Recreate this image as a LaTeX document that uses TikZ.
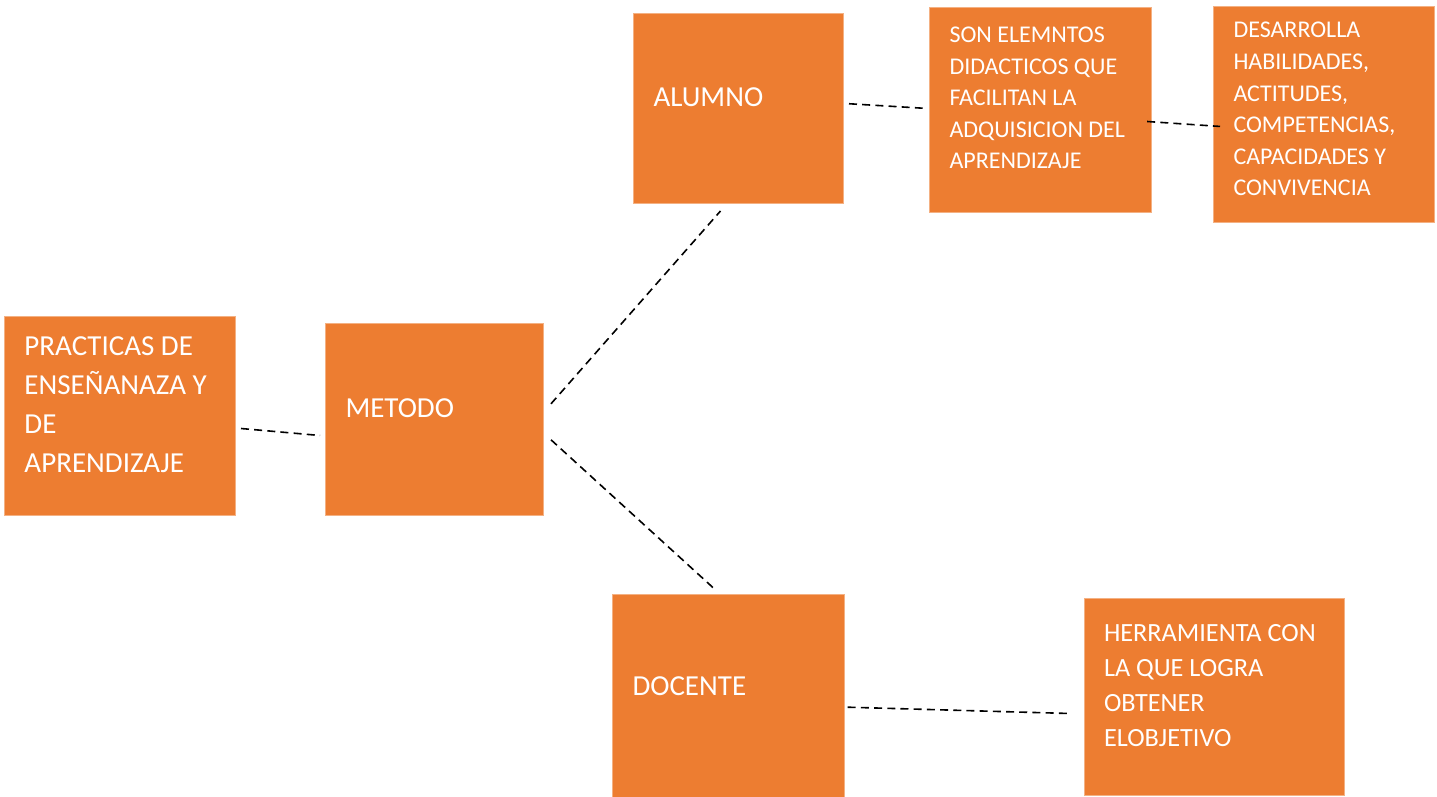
\documentclass[tikz,border=0pt]{standalone}
\usepackage{fontspec}
\setmainfont{Carlito}
\definecolor{cardorange}{HTML}{ED7D31}
\definecolor{cardedge}{HTML}{F4B183}
\tikzset{
  card/.style={fill=cardorange, draw=cardedge, line width=0.5pt, text=white,
    anchor=north west, align=flush left, inner xsep=10pt, inner ysep=0pt,
    execute at end node={\par\vspace*{#1}}},
  card/.default=11pt,
  bigtext/.style={font=\fontsize{14.5}{19.45}\selectfont},
  midtext/.style={font=\fontsize{13.13}{17.5}\selectfont},
  smalltext/.style={font=\fontsize{12}{15.8}\selectfont},
  link/.style={line width=0.8pt, dash pattern=on 4pt off 2.6pt}
}
\begin{document}
\begin{tikzpicture}[x=0.5pt,y=-0.5pt]
  \useasboundingbox (0,0) rectangle (1437,797);
  % boxes
  \node[card=11.3pt, bigtext, text width=95.5pt, minimum height=99.5pt] (practicas) at (4,316)
    {PRACTICAS~DE\\ENSEÑANAZA~Y\\DE\\APRENDIZAJE};
  \node[card=11pt, bigtext, text width=89pt, minimum height=96pt] (metodo) at (325,323) {METODO};
  \node[card=11.1pt, bigtext, text width=85pt, minimum height=94.75pt] (alumno) at (633,13.5) {ALUMNO};
  \node[card=9.6pt, bigtext, text width=95.75pt, minimum height=101.5pt] (docente) at (612,594) {DOCENTE};
  \node[card=11.8pt, smalltext, text width=90.85pt, minimum height=102.5pt] (elementos) at (929,6.7)
    {SON~ELEMNTOS\\DIDACTICOS~QUE\\FACILITAN~LA\\ADQUISICION~DEL\\APRENDIZAJE};
  \node[card=5.2pt, smalltext, text width=90.5pt, minimum height=107.85pt] (desarrolla) at (1213,6)
    {DESARROLLA\\HABILIDADES,\\ACTITUDES,\\COMPETENCIAS,\\CAPACIDADES~Y\\CONVIVENCIA};
  \node[card=11.3pt, midtext, text width=110pt, minimum height=98.35pt] (herramienta) at (1083.5,598.3)
    {HERRAMIENTA~CON\\LA~QUE~LOGRA\\OBTENER\\ELOBJETIVO};
  % dashed links
  \draw[link] ([shift={(5,12.5)}]practicas.east) -- ([shift={(-5,16)}]metodo.west);
  \draw[link] ([shift={(7,-15.7)}]metodo.east) -- ([shift={(-18,7)}]alumno.south);
  \draw[link] ([shift={(7,20.3)}]metodo.east) -- ([shift={(-14.5,-5.7)}]docente.north);
  \draw[link] ([shift={(5,-5)}]alumno.east) -- ([shift={(-6.3,-1.5)}]elementos.west);
  \draw[link] ([shift={(-4.6,11.8)}]elementos.east) -- ([shift={(7,12.1)}]desarrolla.west);
  \draw[link] ([shift={(3.2,11.2)}]docente.east) -- ([shift={(-15.5,16.3)}]herramienta.west);
\end{tikzpicture}
\end{document}
